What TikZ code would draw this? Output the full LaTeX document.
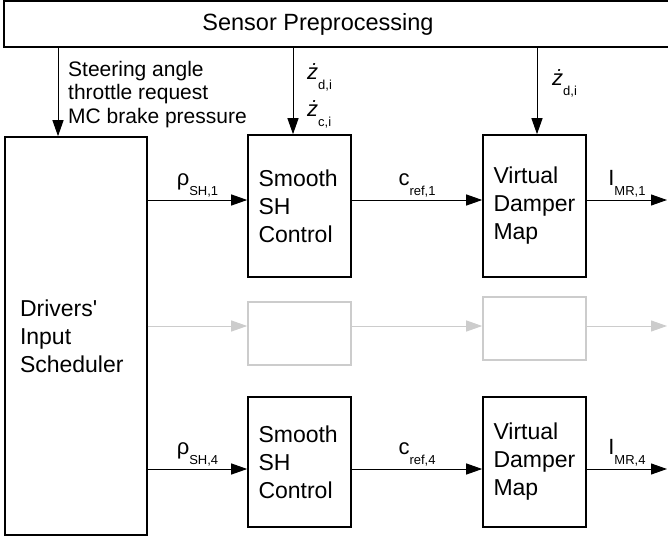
\documentclass[tikz,border=0pt]{standalone}
\usepackage{fontspec}
\setmainfont{Liberation Sans}
\usetikzlibrary{
    positioning,
    arrows.meta
}

% signal name with a lowered small index
\newcommand{\sublbl}[2]{#1\raisebox{-10pt}{\fontsize{13}{13}\selectfont #2}}

\begin{document}
\begin{tikzpicture}[
      x=1pt, y=-1pt,
      block/.style={rectangle, draw, line width=1.6pt, align=left,
          text width=82pt, inner xsep=10.5pt, minimum width=103pt,
          font=\fontsize{23}{28}\selectfont},
      greyblock/.style={rectangle, draw=black!20, line width=1.6pt,
          minimum width=103pt, minimum height=63pt},
      arrow/.style={-{Triangle[length=16pt,width=11pt]}, line width=1pt},
      greyarrow/.style={arrow, draw=black!20, fill=black!20},
      lbl/.style={font=\fontsize{22}{22}\selectfont, inner sep=2pt},
      sig/.style={font=\fontsize{21}{23.5}\selectfont, align=left, inner sep=0pt}
    ]
    \clip (0,0) rectangle (668,540);

    \node[rectangle, draw, line width=1.6pt, minimum width=672pt, minimum height=46pt,
          label={[font=\fontsize{23.5}{23.5}\selectfont, xshift=-22pt]center:Sensor Preprocessing}]
          (sensor) at (340,24) {};

    \node[block, text width=112pt, inner xsep=15pt, minimum width=142pt, minimum height=398pt]
          (drivers) at (76,336) {Drivers\textquotesingle\\Input\\Scheduler};

    \node[block, minimum height=142pt] (smooth1) at (299.5,206) {Smooth\\SH\\Control};
    \node[block, minimum height=142pt] (damper1) at (534.5,206) {Virtual\\Damper\\Map};

    \node[greyblock] (grey1) at (299.5,333.5) {};
    \node[greyblock] (grey2) at (534.5,328.5) {};

    \node[block, minimum height=130pt] (smooth4) at (299.5,462) {Smooth\\SH\\Control};
    \node[block, minimum height=130pt] (damper4) at (534.5,462) {Virtual\\Damper\\Map};

    % rows and columns of the connectors
    \coordinate (row1) at (0,200);
    \coordinate (row2) at (0,326);
    \coordinate (row4) at (0,469);
    \coordinate (col1) at (58,0);
    \coordinate (col2) at (293,0);
    \coordinate (col3) at (537,0);
    \coordinate (out) at (667,0);

    % from the preprocessing
    \draw[arrow] (sensor.south -| col1) -- (drivers.north -| col1);
    \draw[arrow] (sensor.south -| col2) -- (smooth1.north -| col2);
    \draw[arrow] (sensor.south -| col3) -- (damper1.north -| col3);
    \node[sig, anchor=north west] (inputs) at (68,61) {Steering angle\\throttle request\\MC brake pressure};
    \node[lbl, anchor=base west, inner sep=0pt] (zd1) at (307,80) {\sublbl{\textit{ż}}{d,i}};
    \node[lbl, anchor=base west, inner sep=0pt] (zc1) at (307,117) {\sublbl{\textit{ż}}{c,i}};
    \node[lbl, anchor=base west, inner sep=0pt] (zd2) at (552,86) {\sublbl{\textit{ż}}{d,i}};

    % first corner
    \draw[arrow] (drivers.east |- row1) -- (smooth1.west |- row1)
        node[lbl, midway, above] {\sublbl{ρ}{SH,1}};
    \draw[arrow] (smooth1.east |- row1) -- (damper1.west |- row1)
        node[lbl, midway, above] {\sublbl{c}{ref,1}};
    \draw[arrow] (damper1.east |- row1) -- (out |- row1)
        node[lbl, midway, above] {\sublbl{I}{MR,1}};

    % corners in between
    \draw[greyarrow] (drivers.east |- row2) -- (grey1.west |- row2);
    \draw[greyarrow] (grey1.east |- row2) -- (grey2.west |- row2);
    \draw[greyarrow] (grey2.east |- row2) -- (out |- row2);

    % fourth corner
    \draw[arrow] (drivers.east |- row4) -- (smooth4.west |- row4)
        node[lbl, midway, above] {\sublbl{ρ}{SH,4}};
    \draw[arrow] (smooth4.east |- row4) -- (damper4.west |- row4)
        node[lbl, midway, above] {\sublbl{c}{ref,4}};
    \draw[arrow] (damper4.east |- row4) -- (out |- row4)
        node[lbl, midway, above] {\sublbl{I}{MR,4}};
  \end{tikzpicture}
\end{document}
